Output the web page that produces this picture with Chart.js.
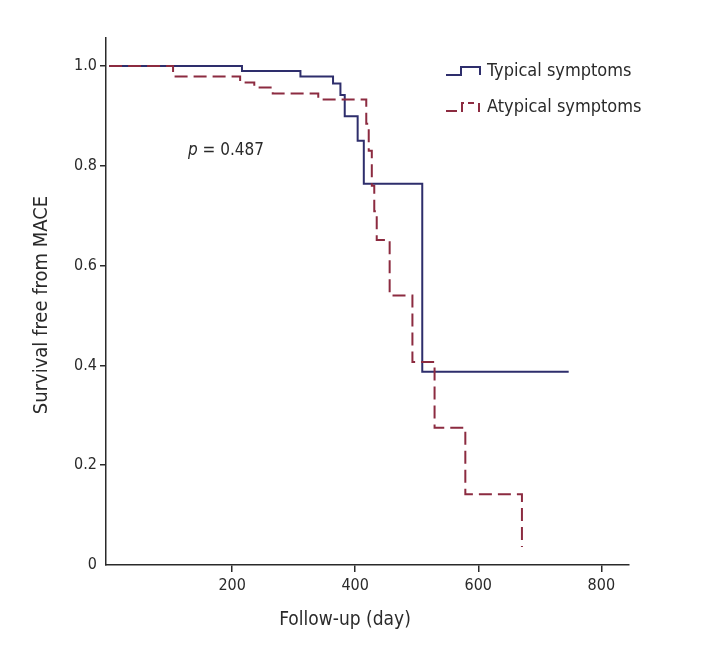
<!DOCTYPE html>
<html>
<head>
<meta charset="utf-8">
<script src="https://cdn.jsdelivr.net/npm/chart.js@4"></script>
<style>
  html, body { margin: 0; padding: 0; background: #fff; }
</style>
</head>
<body>
<canvas id="km" width="702" height="656"></canvas>
<script>
// Kaplan-Meier: survival free from MACE
const xTicks = [200, 400, 600, 800];
const yTicks = [0, 0.2, 0.4, 0.6, 0.8, 1.0];

const typicalDays = [0, 216, 311, 364, 376, 383, 404, 414, 509, 747];
const typicalSurv = [1.0, 0.990, 0.979, 0.965, 0.942, 0.899, 0.850, 0.764, 0.387, 0.387];

const atypicalDays = [0, 104, 213, 236, 266, 340, 418, 422, 427, 431, 435, 456, 493, 529, 579, 671];
const atypicalSurv = [1.0, 0.979, 0.967, 0.957, 0.945, 0.933, 0.884, 0.830, 0.760, 0.709, 0.651, 0.540, 0.407, 0.275, 0.142, 0.036];

const seriesNames = ['Typical symptoms', 'Atypical symptoms'];
const xTitle = 'Follow-up (day)';
const yTitle = 'Survival free from MACE';
const pText = ' = 0.487';

const FONT = "'DejaVu Sans Condensed', 'Open Sans', sans-serif";
const NAVY = '#2e2e6c';
const RED = '#8c2b40';
const INK = '#2a2a2a';

function toPoints(days, surv) {
    return days.map((d, i) => ({ x: d, y: surv[i] }));
}

// leyenda, títulos y valor p
const extras = {
    id: 'extras',
    afterDraw(chart) {
        const ctx = chart.ctx;
        ctx.save();
        ctx.fillStyle = INK;
        ctx.textBaseline = 'middle';
        ctx.font = 'italic 17px ' + FONT;
        ctx.fillText('p', 188, 151);
        const w = ctx.measureText('p').width;
        ctx.font = '17px ' + FONT;
        ctx.fillText(pText, 188 + w, 151);

        // títulos de los ejes
        ctx.textAlign = 'center';
        ctx.font = '19px ' + FONT;
        ctx.fillText(xTitle, 345, 620);
        ctx.save();
        ctx.translate(42, 305);
        ctx.rotate(-Math.PI / 2);
        ctx.font = '20px ' + FONT;
        ctx.fillText(yTitle, 0, 0);
        ctx.restore();
        ctx.textAlign = 'left';

        // iconos de la leyenda
        ctx.lineWidth = 2;
        ctx.strokeStyle = NAVY;
        ctx.setLineDash([]);
        ctx.beginPath();
        ctx.moveTo(446, 75); ctx.lineTo(461, 75); ctx.lineTo(461, 67);
        ctx.lineTo(480, 67); ctx.lineTo(480, 75);
        ctx.stroke();

        ctx.strokeStyle = RED;
        ctx.setLineDash([11, 4]);
        ctx.beginPath();
        ctx.moveTo(446, 111); ctx.lineTo(462, 111); ctx.lineTo(462, 103);
        ctx.lineTo(474, 103);
        ctx.stroke();
        ctx.setLineDash([]);
        ctx.beginPath();
        ctx.moveTo(479, 103); ctx.lineTo(479, 112);
        ctx.stroke();

        ctx.fillStyle = INK;
        ctx.font = '18px ' + FONT;
        ctx.fillText(seriesNames[0], 487, 71);
        ctx.fillText(seriesNames[1], 487, 107);
        ctx.restore();
    }
};

new Chart(document.getElementById('km'), {
    type: 'line',
    data: {
        datasets: [
            {
                label: seriesNames[0],
                data: toPoints(typicalDays, typicalSurv),
                borderColor: NAVY,
                borderWidth: 2,
                stepped: 'before',
                pointRadius: 0,
                fill: false,
                order: 1
            },
            {
                label: seriesNames[1],
                data: toPoints(atypicalDays, atypicalSurv),
                borderColor: RED,
                borderWidth: 2,
                borderDash: [13, 6],
                stepped: 'before',
                pointRadius: 0,
                fill: false,
                order: 0
            }
        ]
    },
    options: {
        responsive: false,
        animation: false,
        layout: { padding: { top: 38, right: 73, left: 0, bottom: 0 } },
        plugins: {
            legend: { display: false },
            tooltip: { enabled: false }
        },
        scales: {
            x: {
                type: 'linear',
                min: -5,
                max: 845,
                afterBuildTicks: s => { s.ticks = xTicks.map(v => ({ value: v })); },
                afterFit: s => { s.height = 91; },
                ticks: {
                    autoSkip: false,
                    maxRotation: 0,
                    padding: 4,
                    color: INK,
                    font: { family: FONT, size: 16 },
                    callback: v => String(v)
                },
                grid: { drawOnChartArea: false, drawTicks: true, tickLength: 7, color: INK, lineWidth: 1.5 },
                border: { color: INK, width: 1.5 }
            },
            y: {
                min: 0,
                max: 1.056,
                afterBuildTicks: s => { s.ticks = yTicks.map(v => ({ value: v })); },
                afterFit: s => { s.width = 106; },
                ticks: {
                    autoSkip: false,
                    padding: 3,
                    color: INK,
                    font: { family: FONT, size: 16 },
                    callback: v => v === 0 ? '0' : v.toFixed(1)
                },
                grid: {
                    drawOnChartArea: false,
                    drawTicks: true,
                    tickLength: 6,
                    lineWidth: 1.5,
                    color: c => (c.tick && c.tick.value === 0) ? 'rgba(0,0,0,0)' : INK
                },
                border: { color: INK, width: 1.5 }
            }
        }
    },
    plugins: [extras]
});
</script>
</body>
</html>
